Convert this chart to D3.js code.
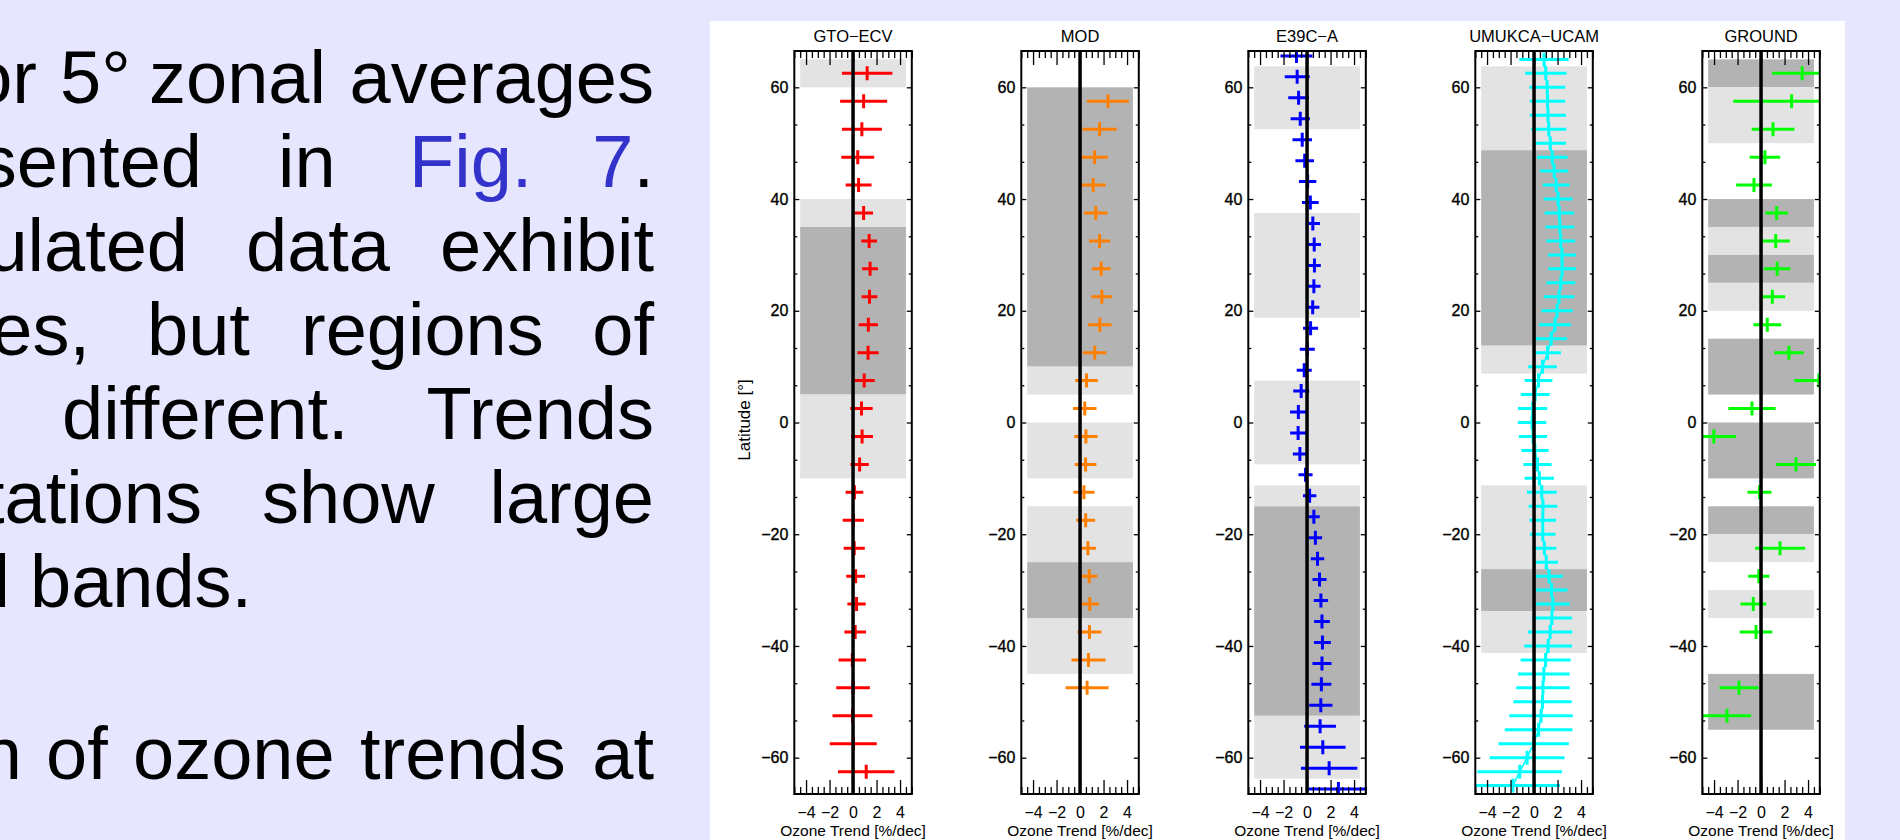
<!DOCTYPE html>
<html><head><meta charset="utf-8">
<script src="https://cdn.jsdelivr.net/npm/d3@7"></script>
<style>
html,body{margin:0;padding:0;background:#E6E6FF;overflow:hidden}
svg{display:block}
</style></head><body>
<svg id="chart" width="1900" height="840"></svg>
<script>
// ---------------- data ----------------
const panelTitles = ["GTO\u2212ECV", "MOD", "E39C\u2212A", "UMUKCA\u2212UCAM", "GROUND"];
const panelColors = ["#FF0000", "#FF8000", "#0000FF", "#00FFFF", "#00FF00"];
const yTickValues = [-60, -40, -20, 0, 20, 40, 60];
const xTickValues = [-4, -2, 0, 2, 4];

const gtoLat   = [62.5, 57.5, 52.5, 47.5, 42.5, 37.5, 32.5, 27.5, 22.5, 17.5, 12.5, 7.5, 2.5, -2.5, -7.5, -12.5, -17.5, -22.5, -27.5, -32.5, -37.5, -42.5, -47.5, -52.5, -57.5, -62.5];
const gtoTrend = [1.2, 0.9, 0.75, 0.4, 0.47, 0.9, 1.37, 1.45, 1.4, 1.3, 1.28, 0.95, 0.72, 0.77, 0.56, 0.12, 0.02, 0.1, 0.22, 0.3, 0.18, -0.06, 0.0, -0.05, 0.02, 1.12];
const gtoErr   = [2.15, 2.0, 1.7, 1.4, 1.1, 0.8, 0.67, 0.68, 0.67, 0.82, 0.9, 0.9, 0.95, 0.93, 0.78, 0.75, 0.9, 0.9, 0.8, 0.78, 0.92, 1.17, 1.43, 1.7, 2.0, 2.4];
const gtoBands = [[65, 60, "light"], [40, 35, "light"], [35, 5, "dark"], [5, -10, "light"]];

const modLat   = [57.5, 52.5, 47.5, 42.5, 37.5, 32.5, 27.5, 22.5, 17.5, 12.5, 7.5, 2.5, -2.5, -7.5, -12.5, -17.5, -22.5, -27.5, -32.5, -37.5, -42.5, -47.5];
const modTrend = [2.37, 1.66, 1.24, 1.12, 1.34, 1.66, 1.8, 1.85, 1.68, 1.25, 0.55, 0.4, 0.5, 0.47, 0.33, 0.48, 0.67, 0.78, 0.83, 0.8, 0.72, 0.6];
const modErr   = [1.78, 1.45, 1.12, 1.06, 1.0, 0.89, 0.8, 0.88, 1.0, 1.0, 0.96, 1.0, 0.99, 0.92, 0.9, 0.8, 0.68, 0.7, 0.78, 1.02, 1.45, 1.83];
const modBands = [[60, 10, "dark"], [10, 5, "light"], [0, -10, "light"], [-15, -25, "light"], [-25, -35, "dark"], [-35, -45, "light"]];

const e39Lat   = [65.625, 61.875, 58.125, 54.375, 50.625, 46.875, 43.125, 39.375, 35.625, 31.875, 28.125, 24.375, 20.625, 16.875, 13.125, 9.375, 5.625, 1.875,
                  -1.875, -5.625, -9.375, -13.125, -16.875, -20.625, -24.375, -28.125, -31.875, -35.625, -39.375, -43.125, -46.875, -50.625, -54.375, -58.125, -61.875, -65.625];
const e39Trend = [-0.9, -0.84, -0.72, -0.58, -0.41, -0.2, 0.05, 0.28, 0.49, 0.61, 0.63, 0.58, 0.48, 0.3, 0.02, -0.24, -0.5, -0.74,
                  -0.76, -0.61, -0.13, 0.22, 0.58, 0.71, 0.89, 1.06, 1.18, 1.27, 1.31, 1.27, 1.22, 1.17, 1.11, 1.34, 1.88, 2.67];
const e39Err   = [1.36, 1.06, 0.88, 0.82, 0.83, 0.79, 0.74, 0.71, 0.61, 0.58, 0.54, 0.57, 0.57, 0.64, 0.64, 0.64, 0.68, 0.71,
                  0.68, 0.6, 0.6, 0.57, 0.5, 0.57, 0.57, 0.6, 0.61, 0.67, 0.72, 0.81, 0.85, 0.99, 1.35, 1.94, 2.4, 2.56];
const e39Bands = [[63.75, 52.5, "light"], [37.5, 18.75, "light"], [7.5, -7.5, "light"], [-11.25, -15, "light"], [-15, -52.5, "dark"], [-52.5, -63.75, "light"]];

const umLat   = [65, 62.5, 60, 57.5, 55, 52.5, 50, 47.5, 45, 42.5, 40, 37.5, 35, 32.5, 30, 27.5, 25, 22.5, 20, 17.5, 15, 12.5, 10, 7.5, 5, 2.5, 0,
                 -2.5, -5, -7.5, -10, -12.5, -15, -17.5, -20, -22.5, -25, -27.5, -30, -32.5, -35, -37.5, -40, -42.5, -45, -47.5, -50, -52.5, -55, -57.5, -60, -62.5, -65];
const umTrend = [0.85, 1.0, 1.12, 1.15, 1.19, 1.25, 1.38, 1.55, 1.71, 1.88, 2.05, 2.15, 2.2, 2.27, 2.38, 2.39, 2.28, 2.13, 1.96, 1.78, 1.46, 1.15, 0.72, 0.38, 0.1, -0.12, -0.17,
                 -0.09, 0.08, 0.29, 0.45, 0.66, 0.76, 0.74, 0.74, 0.88, 1.04, 1.28, 1.49, 1.6, 1.52, 1.37, 1.2, 0.98, 0.83, 0.76, 0.72, 0.6, 0.39, -0.03, -0.59, -1.22, -1.8];
const umErr   = [2.1, 1.76, 1.53, 1.49, 1.53, 1.49, 1.33, 1.3, 1.2, 1.13, 1.23, 1.25, 1.23, 1.23, 1.2, 1.18, 1.22, 1.3, 1.32, 1.35, 1.35, 1.13, 1.22, 1.18, 1.23, 1.25, 1.21,
                 1.2, 1.16, 1.2, 1.25, 1.26, 1.22, 1.13, 1.08, 1.02, 1.0, 1.18, 1.36, 1.42, 1.7, 1.89, 2.03, 2.13, 2.2, 2.27, 2.48, 2.7, 2.88, 2.99, 3.19, 3.6, 4.0];
const umBands = [[63.75, 48.75, "light"], [48.75, 13.75, "dark"], [13.75, 8.75, "light"], [-11.25, -26.25, "light"], [-26.25, -33.75, "dark"], [-33.75, -41.25, "light"]];

const grLat   = [62.5, 57.5, 52.5, 47.5, 42.5, 37.5, 32.5, 27.5, 22.5, 17.5, 12.5, 7.5, 2.5, -2.5, -7.5, -12.5, -22.5, -27.5, -32.5, -37.5, -47.5, -52.5];
const grTrend = [3.5, 2.6, 1.02, 0.33, -0.6, 1.33, 1.25, 1.37, 0.96, 0.53, 2.37, 4.92, -0.77, -4.02, 2.98, -0.13, 1.62, -0.19, -0.66, -0.43, -1.88, -2.9];
const grErr   = [2.55, 4.97, 1.82, 1.3, 1.52, 0.96, 1.2, 1.13, 1.09, 1.18, 1.26, 2.1, 2.01, 1.88, 1.7, 1.02, 2.13, 0.9, 1.1, 1.39, 1.66, 2.05];
const grBands = [[65, 60, "dark"], [60, 50, "light"], [40, 35, "dark"], [35, 30, "light"], [30, 25, "dark"], [25, 20, "light"], [15, 5, "dark"], [0, -10, "dark"], [-15, -20, "dark"], [-20, -25, "light"], [-30, -35, "light"], [-45, -55, "dark"]];

// ---------------- layout / style ----------------
const shade = {light: "#E3E3E3", dark: "#B3B3B3"};
const FONT = "'Liberation Sans', Arial, Helvetica, sans-serif";
const svg = d3.select("#chart");

svg.append("rect").attr("width", 1900).attr("height", 840).attr("fill", "#E6E6FF");

// paragraph text (partially cut off at the left edge, as in the slide)
const textLines = [
  {y: 103, words: [{t: "or", x: 37, a: "end"}, {t: "5°", x: 60}, {t: "zonal", x: 149}, {t: "averages", x: 654, a: "end"}]},
  {y: 187, words: [{t: "sented", x: 202, a: "end"}, {t: "in", x: 278}, {t: "Fig.", x: 409, c: "#3333CC"}, {parts: [["7", "#3333CC"], [".", "#000"]], x: 654, a: "end"}]},
  {y: 271, words: [{t: "ulated", x: 188, a: "end"}, {t: "data", x: 246}, {t: "exhibit", x: 654, a: "end"}]},
  {y: 355, words: [{t: "es,", x: 90, a: "end"}, {t: "but", x: 147}, {t: "regions", x: 301}, {t: "of", x: 654, a: "end"}]},
  {y: 439, words: [{t: "different.", x: 62}, {t: "Trends", x: 654, a: "end"}]},
  {y: 523, words: [{t: "tations", x: 202, a: "end"}, {t: "show", x: 262}, {t: "large", x: 654, a: "end"}]},
  {y: 607, words: [{t: "l", x: 10, a: "end"}, {t: "bands.", x: 30}]},
  {y: 779, words: [{t: "n", x: 22, a: "end"}, {t: "of", x: 46}, {t: "ozone", x: 133}, {t: "trends", x: 360}, {t: "at", x: 654, a: "end"}]}
];
const tg = svg.append("g").attr("font-family", FONT).attr("font-size", 74);
textLines.forEach(line => {
  line.words.forEach(w => {
    const t = tg.append("text").attr("x", w.x).attr("y", line.y)
      .attr("text-anchor", w.a || "start").attr("fill", w.c || "#000");
    if (w.parts) w.parts.forEach(p => t.append("tspan").attr("fill", p[1]).text(p[0]));
    else t.text(w.t);
  });
});

// white figure area
svg.append("rect").attr("x", 710).attr("y", 21).attr("width", 1135).attr("height", 819).attr("fill", "#FFFFFF");

const panels = [
  {lat: gtoLat, trend: gtoTrend, err: gtoErr, bands: gtoBands, line: false},
  {lat: modLat, trend: modTrend, err: modErr, bands: modBands, line: false},
  {lat: e39Lat, trend: e39Trend, err: e39Err, bands: e39Bands, line: false},
  {lat: umLat,  trend: umTrend,  err: umErr,  bands: umBands,  line: true},
  {lat: grLat,  trend: grTrend,  err: grErr,  bands: grBands,  line: false}
];

const left0 = 794.3, step = 227, pw = 117.5, plotTop = 51, ph = 743;
const x = d3.scaleLinear().domain([-5, 5]).range([0, pw]);
const y = d3.scaleLinear().domain([-66.5, 66.5]).range([ph, 0]);
const fmt = d => d < 0 ? "\u2212" + Math.abs(d) : String(d);
const xMinor = d3.range(-5, 5.001, 0.5).filter(v => !xTickValues.includes(v));
const yMinor = d3.range(-9, 10).map(k => k * 20 / 3).filter(v => Math.abs(v) <= 66.5 && !yTickValues.some(t => Math.abs(t - v) < 1e-6));
const crossHalf = 7;

panels.forEach((p, i) => {
  const g = svg.append("g").attr("transform", `translate(${left0 + i * step},${plotTop})`);
  const col = panelColors[i];
  const cid = "clip" + i;
  g.append("clipPath").attr("id", cid).append("rect").attr("width", pw).attr("height", ph);

  // bands
  g.selectAll("rect.band").data(p.bands).join("rect").attr("class", "band")
    .attr("x", x(-4.5)).attr("width", x(4.5) - x(-4.5))
    .attr("y", d => y(d[0])).attr("height", d => y(d[1]) - y(d[0]))
    .attr("fill", d => shade[d[2]]);

  const pts = p.lat.map((la, k) => ({lat: la, t: p.trend[k], e: p.err[k]}));
  const dg = g.append("g").attr("clip-path", `url(#${cid})`);
  if (p.line) {
    dg.append("path").datum(pts).attr("fill", "none").attr("stroke", col).attr("stroke-width", 1.6)
      .attr("d", d3.line().x(d => x(d.t)).y(d => y(d.lat)));
  }
  dg.selectAll("line.eb").data(pts).join("line").attr("class", "eb")
    .attr("x1", d => x(d.t - d.e)).attr("x2", d => x(d.t + d.e))
    .attr("y1", d => y(d.lat)).attr("y2", d => y(d.lat))
    .attr("stroke", col).attr("stroke-width", 3);
  dg.selectAll("line.cv").data(pts).join("line").attr("class", "cv")
    .attr("x1", d => x(d.t)).attr("x2", d => x(d.t))
    .attr("y1", d => y(d.lat) - crossHalf).attr("y2", d => y(d.lat) + crossHalf)
    .attr("stroke", col).attr("stroke-width", 3);

  // zero line
  g.append("line").attr("x1", x(0)).attr("x2", x(0)).attr("y1", 0).attr("y2", ph)
    .attr("stroke", "#000").attr("stroke-width", 3.5);

  // axes
  const styleAxis = a => { a.select(".domain").remove(); a.selectAll("line").attr("stroke", "#000").attr("stroke-width", 1.3); };
  const gb = g.append("g").attr("transform", `translate(0,${ph})`)
    .call(d3.axisBottom(x).tickValues(xTickValues).tickSize(-14).tickPadding(13).tickFormat(fmt));
  styleAxis(gb);
  gb.selectAll("text").attr("font-family", FONT).attr("font-size", 16).attr("fill", "#000");
  styleAxis(g.append("g").attr("transform", `translate(0,${ph})`).call(d3.axisBottom(x).tickValues(xMinor).tickSize(-7).tickFormat("")));
  styleAxis(g.append("g").call(d3.axisTop(x).tickValues(xTickValues).tickSize(-14).tickFormat("")));
  styleAxis(g.append("g").call(d3.axisTop(x).tickValues(xMinor).tickSize(-7).tickFormat("")));

  const gl = g.append("g").call(d3.axisLeft(y).tickValues(yTickValues).tickSize(-5).tickPadding(6).tickFormat(fmt));
  styleAxis(gl);
  gl.selectAll("text").attr("font-family", FONT).attr("font-size", 16).attr("fill", "#000").attr("stroke", "#000").attr("stroke-width", 0.35);
  styleAxis(g.append("g").call(d3.axisLeft(y).tickValues(yMinor).tickSize(-3).tickFormat("")));
  styleAxis(g.append("g").attr("transform", `translate(${pw},0)`).call(d3.axisRight(y).tickValues(yTickValues).tickSize(-5).tickFormat("")));
  styleAxis(g.append("g").attr("transform", `translate(${pw},0)`).call(d3.axisRight(y).tickValues(yMinor).tickSize(-3).tickFormat("")));

  // frame
  g.append("rect").attr("width", pw).attr("height", ph).attr("fill", "none").attr("stroke", "#000").attr("stroke-width", 2);

  // title & x label
  g.append("text").attr("x", pw / 2).attr("y", -9).attr("text-anchor", "middle")
    .attr("font-family", FONT).attr("font-size", 16.5).text(panelTitles[i]);
  g.append("text").attr("x", pw / 2).attr("y", ph + 42).attr("text-anchor", "middle")
    .attr("font-family", FONT).attr("font-size", 15.5).text("Ozone Trend [%/dec]");
});

// y-axis title
svg.append("text").attr("transform", "translate(750,420) rotate(-90)").attr("text-anchor", "middle")
  .attr("font-family", FONT).attr("font-size", 17).text("Latitude [°]");
</script>
</body></html>
